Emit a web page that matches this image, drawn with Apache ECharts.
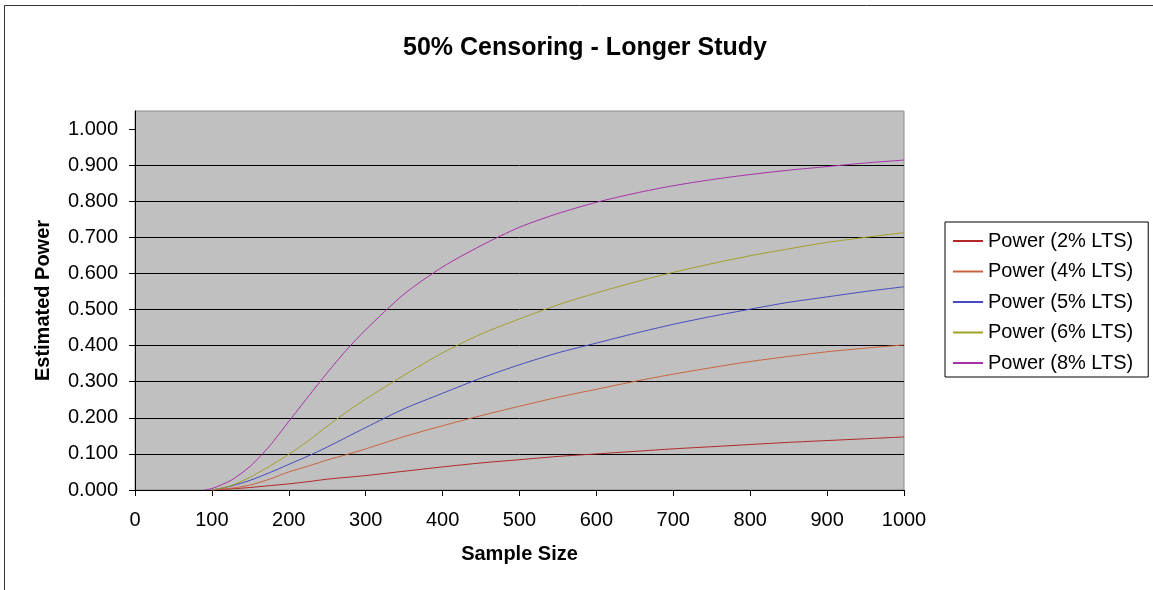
<!DOCTYPE html>
<html>
<head>
<meta charset="utf-8">
<title>50% Censoring - Longer Study</title>
<script src="https://cdn.jsdelivr.net/npm/echarts@6/dist/echarts.min.js"></script>
<style>
  html, body { margin: 0; padding: 0; background: #fff; }
  #chart { width: 1153px; height: 590px; }
</style>
</head>
<body>
<div id="chart"></div>
<script>
// sample sizes
const sampleSize = [90, 100, 125, 150, 175, 200, 225, 250, 275, 300, 350, 400, 450, 500,
  550, 600, 650, 700, 750, 800, 850, 900, 950, 1000];

// estimated power per series
const power2 = [null, 0.000, 0.003, 0.007, 0.012, 0.017, 0.023, 0.030, 0.035, 0.040, 0.052, 0.064, 0.075, 0.084,
  0.093, 0.100, 0.107, 0.114, 0.120, 0.126, 0.132, 0.137, 0.142, 0.147];
const power4 = [null, 0.000, 0.005, 0.014, 0.030, 0.050, 0.066, 0.083, 0.098, 0.114, 0.148, 0.178, 0.206, 0.232,
  0.257, 0.279, 0.301, 0.321, 0.339, 0.356, 0.370, 0.383, 0.393, 0.402];
const power5 = [null, 0.000, 0.011, 0.027, 0.048, 0.071, 0.094, 0.119, 0.146, 0.173, 0.225, 0.268, 0.310, 0.347,
  0.380, 0.407, 0.434, 0.459, 0.481, 0.501, 0.520, 0.535, 0.550, 0.563];
const power6 = [null, 0.000, 0.012, 0.036, 0.066, 0.099, 0.136, 0.177, 0.216, 0.252, 0.318, 0.380, 0.432, 0.474,
  0.513, 0.546, 0.576, 0.603, 0.627, 0.649, 0.668, 0.686, 0.700, 0.713];
const power8 = [0.000, 0.004, 0.027, 0.066, 0.122, 0.190, 0.258, 0.325, 0.388, 0.444, 0.543, 0.618, 0.677, 0.728,
  0.766, 0.797, 0.822, 0.843, 0.860, 0.874, 0.886, 0.896, 0.906, 0.914];

const seriesNames = ['Power (2% LTS)', 'Power (4% LTS)', 'Power (5% LTS)', 'Power (6% LTS)', 'Power (8% LTS)'];
const seriesData = [power2, power4, power5, power6, power8];
const colors = ['#b02828', '#c8643c', '#4848c0', '#a0a028', '#a830a8'];

const yTicks = [0, 0.1, 0.2, 0.3, 0.4, 0.5, 0.6, 0.7, 0.8, 0.9, 1.0];

const font = "'Liberation Sans', Arial, sans-serif";

const chart = echarts.init(document.getElementById('chart'));

const option = {
  animation: false,
  color: colors,
  textStyle: { fontFamily: font },
  title: {
    text: '50% Censoring - Longer Study',
    left: 580,
    textAlign: 'center',
    top: 31,
    textStyle: { fontSize: 25, fontWeight: 'bold', color: '#000', fontFamily: font }
  },
  graphic: [{
    type: 'rect',
    shape: { x: 4.5, y: 5.5, width: 1300, height: 800 },
    style: { fill: 'none', stroke: '#333', lineWidth: 1 },
    silent: true
  }],
  legend: {
    orient: 'vertical',
    left: 945,
    top: 222,
    padding: [8, 15, 3, 8],
    itemGap: 8.5,
    itemWidth: 30,
    itemHeight: 2,
    itemTextGap: 6,
    icon: 'rect',
    borderColor: '#000',
    borderWidth: 1,
    backgroundColor: '#fff',
    textStyle: { fontSize: 20, color: '#000', lineHeight: 22, fontFamily: font },
    data: seriesNames
  },
  grid: {
    left: 135,
    right: 249,
    top: 111,
    bottom: 100,
    show: true,
    backgroundColor: '#c0c0c0',
    borderColor: '#8a8a8a',
    borderWidth: 1,
    containLabel: false
  },
  xAxis: {
    type: 'value',
    min: 0,
    max: 1000,
    interval: 100,
    name: 'Sample Size',
    nameLocation: 'middle',
    nameGap: 54,
    nameTextStyle: { fontSize: 20, fontWeight: 'bold', color: '#000', fontFamily: font, verticalAlign: 'top' },
    axisLine: { show: true, onZero: false, lineStyle: { color: '#000', width: 1 } },
    axisTick: { show: true, inside: false, length: 6, lineStyle: { color: '#000' } },
    axisLabel: { fontSize: 20, color: '#000', margin: 20, fontFamily: font, formatter: v => String(v) },
    splitLine: { show: false }
  },
  yAxis: {
    type: 'value',
    min: 0,
    max: 1.05,
    interval: 0.1,
    name: 'Estimated Power',
    nameLocation: 'middle',
    nameRotate: 90,
    nameGap: 82,
    nameTextStyle: { fontSize: 20, fontWeight: 'bold', color: '#000', fontFamily: font },
    axisLine: { show: true, lineStyle: { color: '#000', width: 1 } },
    axisTick: { show: true, inside: false, length: 6, lineStyle: { color: '#000' }, customValues: yTicks },
    axisLabel: {
      fontSize: 20, color: '#000', margin: 17, fontFamily: font,
      customValues: yTicks,
      formatter: v => v.toFixed(3)
    },
    splitLine: { show: true, showMaxLine: false, lineStyle: { color: '#000', width: 1 } }
  },
  series: seriesNames.map((name, i) => ({
    name: name,
    type: 'line',
    showSymbol: false,
    smooth: 0.25,
    lineStyle: { width: 1, color: colors[i] },
    data: sampleSize.map((s, j) => [s, seriesData[i][j]])
  }))
};

chart.setOption(option);
</script>
</body>
</html>
